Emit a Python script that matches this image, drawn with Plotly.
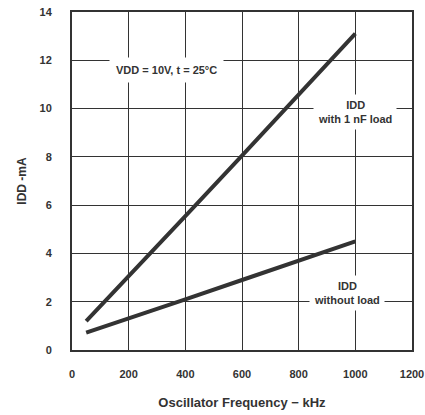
import plotly.graph_objects as go

freq_khz = [50, 200, 400, 600, 800, 1000]
idd_with_load = [1.2, 3.05, 5.55, 8.05, 10.55, 13.1]
idd_no_load = [0.72, 1.3, 2.1, 2.9, 3.7, 4.5]

x_ticks = [0, 200, 400, 600, 800, 1000, 1200]
y_ticks = [0, 2, 4, 6, 8, 10, 12, 14]

dark = "#333333"
font_family = "Liberation Sans, Arial, sans-serif"

fig = go.Figure()
fig.add_trace(go.Scatter(x=freq_khz, y=idd_with_load, mode="lines",
                         line=dict(color=dark, width=4), showlegend=False))
fig.add_trace(go.Scatter(x=freq_khz, y=idd_no_load, mode="lines",
                         line=dict(color=dark, width=4), showlegend=False))

ann_font = dict(family=font_family, size=11, color=dark)
fig.add_annotation(x=335, y=11.6, text="<b>VDD = 10V, t = 25°C</b>", showarrow=False,
                   bgcolor="white", font=ann_font, borderpad=6)
fig.add_annotation(x=999, y=9.86, text="<b>IDD<br>with 1 nF load</b>", showarrow=False,
                   bgcolor="white", font=ann_font, borderpad=4)
fig.add_annotation(x=971, y=2.35, text="<b>IDD<br>without load</b>", showarrow=False,
                   bgcolor="white", font=ann_font, borderpad=4)

fig.update_xaxes(range=[0, 1200], tickvals=x_ticks,
                 ticktext=[f"<b>{v}</b>" for v in x_ticks],
                 showgrid=True, gridcolor=dark, gridwidth=1,
                 showline=True, linecolor=dark, linewidth=2, mirror=True,
                 zeroline=False, ticks="", ticklabelstandoff=13, automargin=False,
                 tickfont=dict(family=font_family, size=11, color=dark),
                 title=dict(text="<b>Oscillator Frequency − kHz</b>", standoff=19,
                            font=dict(family=font_family, size=13, color=dark)))
fig.update_yaxes(range=[0, 14], tickvals=y_ticks,
                 ticktext=[f"<b>{v}</b>" for v in y_ticks],
                 showgrid=True, gridcolor=dark, gridwidth=1,
                 showline=True, linecolor=dark, linewidth=2, mirror=True,
                 zeroline=False, ticks="", ticklabelstandoff=16, automargin=False,
                 tickfont=dict(family=font_family, size=11, color=dark),
                 title=dict(text="<b>IDD -mA</b>", standoff=10,
                            font=dict(family=font_family, size=12, color=dark)))

fig.update_layout(width=425, height=415, margin=dict(l=72, r=13, t=12, b=65),
                  plot_bgcolor="white", paper_bgcolor="white")

post = (
    "document.documentElement.style.margin='0';"
    "document.body.style.margin='0';"
    "document.body.style.overflow='hidden';"
)
fig.write_html("out.html", post_script=post, config={"displayModeBar": False})
